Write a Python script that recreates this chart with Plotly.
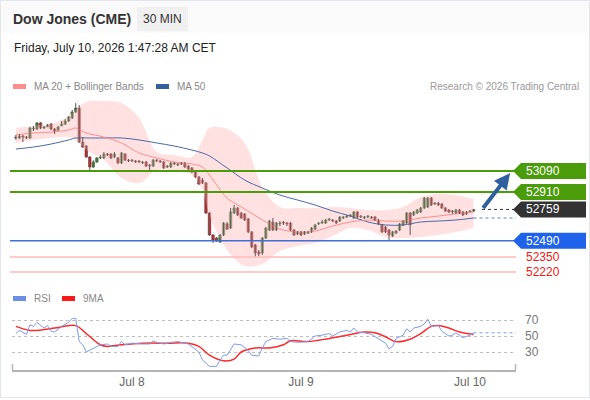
import pandas as pd
import plotly.graph_objects as go

W, H = 590, 400
FONT = "Liberation Sans, Arial, sans-serif"

# 30 min candles, CET, first one Jul 7 07:30
t_start = "2026-07-07 07:30"

opens = [53382, 53374, 53391, 53382, 53374, 53451, 53451, 53503, 53460, 53469,
         53494, 53451, 53443, 53477, 53494, 53520, 53546, 53598, 53632, 53339,
         53305, 53210, 53124, 53167, 53202, 53202, 53236, 53236, 53210, 53202,
         53159, 53236, 53184, 53176, 53176, 53176, 53159, 53167, 53141, 53133,
         53184, 53176, 53167, 53124, 53124, 53159, 53141, 53159, 53159, 53133,
         53116, 53081, 53038, 53012, 52986, 52728, 52539, 52513, 52479, 52539,
         52634, 52599, 52728, 52771, 52728, 52720, 52677, 52565, 52453, 52393,
         52384, 52513, 52582, 52651, 52582, 52634, 52651, 52642, 52642, 52582,
         52547, 52565, 52547, 52556, 52565, 52590, 52634, 52642, 52642, 52668,
         52668, 52659, 52659, 52685, 52694, 52702, 52685, 52737, 52702, 52685,
         52694, 52694, 52694, 52668, 52625, 52608, 52582, 52530, 52556, 52582,
         52625, 52642, 52728, 52711, 52728, 52737, 52771, 52780, 52857, 52806,
         52814, 52806, 52771, 52754, 52745, 52728, 52754, 52737, 52720, 52737, 52745]
closes = [53374, 53391, 53382, 53374, 53460, 53460, 53503, 53460, 53469, 53486,
          53451, 53434, 53469, 53494, 53520, 53555, 53598, 53632, 53339, 53296,
          53210, 53124, 53167, 53202, 53210, 53236, 53227, 53202, 53236, 53159,
          53245, 53184, 53176, 53184, 53167, 53167, 53167, 53133, 53133, 53184,
          53176, 53167, 53116, 53133, 53159, 53150, 53150, 53150, 53124, 53107,
          53081, 53038, 52978, 52986, 52728, 52539, 52496, 52487, 52539, 52642,
          52590, 52737, 52771, 52711, 52685, 52668, 52565, 52436, 52384, 52376,
          52513, 52599, 52659, 52582, 52642, 52642, 52642, 52634, 52582, 52539,
          52565, 52539, 52565, 52565, 52599, 52625, 52642, 52651, 52668, 52677,
          52659, 52642, 52694, 52694, 52702, 52711, 52737, 52694, 52694, 52694,
          52702, 52685, 52668, 52634, 52565, 52565, 52539, 52565, 52573, 52634,
          52659, 52728, 52625, 52737, 52754, 52771, 52857, 52857, 52797, 52814,
          52797, 52771, 52745, 52737, 52737, 52754, 52728, 52711, 52737, 52745, 52759]
highs = [53400, 53408, 53400, 53391, 53469, 53477, 53512, 53512, 53477, 53494,
         53503, 53460, 53477, 53520, 53537, 53563, 53615, 53675, 53658, 53382,
         53313, 53219, 53184, 53210, 53227, 53253, 53245, 53245, 53253, 53210,
         53253, 53245, 53193, 53193, 53184, 53184, 53176, 53176, 53150, 53193,
         53193, 53184, 53176, 53141, 53167, 53167, 53159, 53167, 53167, 53141,
         53124, 53090, 53047, 53029, 52995, 52737, 52547, 52522, 52547, 52651,
         52651, 52771, 52797, 52780, 52737, 52728, 52685, 52573, 52462, 52410,
         52522, 52608, 52668, 52685, 52651, 52659, 52659, 52651, 52651, 52590,
         52573, 52573, 52573, 52573, 52608, 52634, 52651, 52668, 52677, 52685,
         52677, 52668, 52702, 52702, 52711, 52720, 52745, 52745, 52711, 52702,
         52711, 52702, 52702, 52677, 52634, 52616, 52590, 52573, 52582, 52642,
         52668, 52737, 52737, 52745, 52763, 52780, 52866, 52866, 52866, 52823,
         52823, 52814, 52780, 52763, 52754, 52763, 52763, 52745, 52745, 52754, 52763]
lows = [53357, 53365, 53339, 53365, 53365, 53434, 53443, 53451, 53451, 53469,
        53443, 53408, 53434, 53477, 53486, 53512, 53537, 53589, 53331, 53288,
        53202, 53081, 53116, 53159, 53193, 53193, 53219, 53193, 53202, 53150,
        53150, 53176, 53167, 53167, 53159, 53159, 53150, 53124, 53090, 53124,
        53167, 53159, 53107, 53116, 53116, 53141, 53133, 53141, 53116, 53098,
        53072, 53029, 52969, 52978, 52720, 52530, 52470, 52479, 52470, 52530,
        52582, 52590, 52720, 52702, 52677, 52659, 52556, 52427, 52350, 52358,
        52367, 52504, 52573, 52573, 52573, 52616, 52625, 52616, 52573, 52530,
        52539, 52530, 52539, 52547, 52556, 52582, 52625, 52634, 52634, 52659,
        52651, 52634, 52651, 52677, 52685, 52694, 52677, 52685, 52685, 52677,
        52685, 52677, 52659, 52625, 52556, 52556, 52496, 52522, 52547, 52573,
        52616, 52634, 52539, 52702, 52720, 52728, 52763, 52771, 52788, 52797,
        52788, 52763, 52737, 52728, 52720, 52720, 52720, 52702, 52711, 52737, 52737]

# indicators, read at these candle positions
ind_idx = [0, 5, 10, 15, 17, 20, 25, 30, 35, 40, 45, 50, 53, 55, 60, 65, 70, 75,
           80, 85, 90, 95, 100, 105, 110, 115, 120, 125, 130]
ma20 = [53400, 53417, 53425, 53443, 53460, 53417, 53382, 53331, 53245, 53202,
        53167, 53150, 53124, 53055, 52857, 52763, 52668, 52590, 52565, 52573,
        52616, 52651, 52668, 52659, 52659, 52685, 52702, 52720, 52737]
ma50 = [53279, 53296, 53322, 53357, 53374, 53374, 53374, 53374, 53357, 53331,
        53305, 53270, 53245, 53219, 53116, 53012, 52943, 52883, 52840, 52797,
        52745, 52702, 52651, 52625, 52625, 52651, 52659, 52668, 52685]
bb_upper = [53460, 53477, 53494, 53563, 53615, 53684, 53693, 53675, 53546, 53253,
            53227, 53210, 53357, 53460, 53451, 53331, 52952, 52780, 52771, 52771,
            52780, 52771, 52754, 52754, 52780, 52866, 52892, 52883, 52849]
bb_lower = [53331, 53357, 53374, 53382, 53357, 53270, 53184, 53029, 52986, 53098,
            53090, 53055, 52926, 52711, 52410, 52272, 52289, 52401, 52444, 52470,
            52530, 52599, 52582, 52522, 52513, 52522, 52539, 52565, 52599]

rsi_idx = [0, 1, 3, 4, 5, 6, 8, 9, 10, 11, 13, 15, 16, 17, 18, 19, 20, 22, 23, 24,
           26, 27, 29, 30, 31, 33, 36, 38, 39, 40, 42, 44, 46, 49, 52, 53, 55, 57,
           58, 59, 60, 62, 64, 66, 67, 69, 70, 71, 73, 75, 77, 78, 80, 83, 85, 87,
           89, 90, 92, 94, 95, 96, 97, 99, 101, 103, 105, 106, 107, 108, 110, 111,
           112, 113, 115, 116, 117, 118, 120, 121, 123, 124, 125, 127, 129, 130]
rsi = [53, 57, 52, 64, 62, 67, 60, 63, 56, 55, 62, 67, 72, 72, 43, 39, 30, 34, 37, 39,
       40, 37, 37, 43, 39, 41, 40, 40, 44, 42, 40, 42, 43, 40, 30, 20, 12, 12,
       20, 26, 26, 40, 39, 32, 26, 25, 35, 43, 47, 46, 47, 43, 42, 43, 50, 51,
       53, 50, 55, 57, 55, 60, 55, 54, 52, 47, 41, 34, 37, 47, 51, 59,
       55, 60, 62, 65, 71, 62, 63, 56, 50, 51, 54, 48, 51, 54]
ma9_idx = [0, 4, 8, 11, 17, 20, 24, 26, 30, 36, 43, 49, 52, 55, 59, 62, 64, 68, 72,
           76, 78, 83, 89, 94, 99, 102, 105, 108, 112, 115, 118, 120, 123, 126, 130]
rsi_ma9 = [62, 57, 58, 60, 63, 53, 39, 37, 39, 41, 41, 41, 37, 26, 19, 21, 30, 35, 35,
           39, 44, 43, 47, 51, 55, 54, 49, 43, 46, 53, 62, 63, 60, 55, 52]

levels_res = [53090, 52910]
level_piv = 52490
levels_sup = [52350, 52220]
last_price = closes[-1]

times = pd.date_range(t_start, periods=len(closes), freq="30min")
t_ind = times[ind_idx]
t_rsi = times[rsi_idx]
t_ma9 = times[ma9_idx]
x_range = ["2026-07-07 06:57", "2026-07-10 06:32"]
y_range = [52151.5, 53744]
t_tail = times[-1] + pd.Timedelta(hours=1.2)
t_head = times[-1] + pd.Timedelta(hours=5.2)


def px(x):
    return x / W


def py(y):
    return 1 - y / H


yscale = (y_range[1] - y_range[0]) / 185.0  # price per pixel

fig = go.Figure()

fig.add_trace(go.Scatter(x=t_ind, y=bb_upper, mode="lines", line=dict(width=0, shape="spline"),
                         hoverinfo="skip", xaxis="x", yaxis="y"))
fig.add_trace(go.Scatter(x=t_ind, y=bb_lower, mode="lines", line=dict(width=0, shape="spline"),
                         fill="tonexty", fillcolor="rgba(255,196,196,0.5)", hoverinfo="skip",
                         xaxis="x", yaxis="y"))
fig.add_trace(go.Scatter(x=t_ind, y=ma50, mode="lines",
                         line=dict(color="#4a6aa8", width=1, shape="spline"), xaxis="x", yaxis="y"))
fig.add_trace(go.Scatter(x=t_ind, y=ma20, mode="lines",
                         line=dict(color="#ff8c8c", width=1, shape="spline"), xaxis="x", yaxis="y"))

# candles: wicks as one broken line, bodies as floating bars
wx, wy = [], []
for t, h, l in zip(times, highs, lows):
    wx += [t, t, None]
    wy += [h, l, None]
fig.add_trace(go.Scatter(x=wx, y=wy, mode="lines", line=dict(color="#5a5a5a", width=1),
                         hoverinfo="skip", xaxis="x", yaxis="y"))
body_base = [min(o, c) for o, c in zip(opens, closes)]
body_len = [max(abs(c - o), 6) for o, c in zip(opens, closes)]
body_col = ["#3f8f2f" if c > o else ("#e0161e" if c < o else "#555555") for o, c in zip(opens, closes)]
edge_col = ["#2d5e25" if c > o else ("#8e1a1a" if c < o else "#555555") for o, c in zip(opens, closes)]
fig.add_trace(go.Bar(x=times, y=body_len, base=body_base, width=1000 * 60 * 21,
                     marker=dict(color=body_col, line=dict(color=edge_col, width=0.6)),
                     hoverinfo="skip", xaxis="x", yaxis="y"))

# dotted projections
fig.add_trace(go.Scatter(x=[t_tail, x_range[1]], y=[last_price, last_price], mode="lines",
                         line=dict(color="#333333", width=1, dash="dot"), xaxis="x", yaxis="y"))
fig.add_trace(go.Scatter(x=[t_ind[-1], x_range[1]], y=[ma50[-1], ma50[-1]], mode="lines",
                         line=dict(color="#5a7fc8", width=1, dash="dot"), xaxis="x", yaxis="y"))

# RSI panel
fig.add_trace(go.Scatter(x=t_ma9, y=rsi_ma9, mode="lines",
                         line=dict(color="#ff2a2a", width=1.5, shape="spline"), xaxis="x2", yaxis="y2"))
fig.add_trace(go.Scatter(x=t_rsi, y=rsi, mode="lines",
                         line=dict(color="#7d9cf0", width=1), xaxis="x2", yaxis="y2"))
fig.add_trace(go.Scatter(x=[t_rsi[-1], x_range[1]], y=[rsi[-1], rsi[-1]], mode="lines",
                         line=dict(color="#7d9cf0", width=1, dash="dot"), xaxis="x2", yaxis="y2"))

shapes = []
annots = []

# card frame and header
shapes.append(dict(type="rect", xref="paper", yref="paper", x0=px(1), x1=px(589), y0=py(33), y1=py(1),
                   fillcolor="#fafafa", line=dict(width=0), layer="below"))
shapes.append(dict(type="rect", xref="paper", yref="paper", x0=px(0.5), x1=px(589.5), y0=py(397.5), y1=py(0.5),
                   line=dict(color="#e2e5ea", width=1)))
shapes.append(dict(type="rect", xref="paper", yref="paper", x0=px(137), x1=px(188), y0=py(31), y1=py(7),
                   fillcolor="#f0f0f0", line=dict(width=0)))

annots.append(dict(text="<b>Dow Jones (CME)</b>", x=px(11), y=py(19), xanchor="left", yanchor="middle",
                   font=dict(size=14, color="#333333")))
annots.append(dict(text="30 MIN", x=px(162.5), y=py(19), xanchor="center", yanchor="middle",
                   font=dict(size=12, color="#333333")))
annots.append(dict(text="Friday, July 10, 2026 1:47:28 AM CET", x=px(12), y=py(48), xanchor="left",
                   yanchor="middle", font=dict(size=12, color="#222222")))

# legends
for x0, col, label in [(13, "#ff8c8c", "MA 20 + Bollinger Bands"), (156, "#34609e", "MA 50")]:
    shapes.append(dict(type="rect", xref="paper", yref="paper", x0=px(x0), x1=px(x0 + 13),
                       y0=py(89), y1=py(84), fillcolor=col, line=dict(width=0)))
    annots.append(dict(text=label, x=px(x0 + 19), y=py(86.5), xanchor="left", yanchor="middle",
                       font=dict(size=10, color="#888888")))
for x0, col, label in [(13, "#6b8fe6", "RSI"), (62, "#ff1a1a", "9MA")]:
    shapes.append(dict(type="rect", xref="paper", yref="paper", x0=px(x0), x1=px(x0 + 13),
                       y0=py(301), y1=py(296), fillcolor=col, line=dict(width=0)))
    annots.append(dict(text=label, x=px(x0 + 19), y=py(298.5), xanchor="left", yanchor="middle",
                       font=dict(size=10, color="#888888")))
annots.append(dict(text="Research © 2026 Trading Central", x=px(581), y=py(86.5), xanchor="right",
                   yanchor="middle", font=dict(size=10, color="#9a9a9a")))


def level_line(price, color, width):
    shapes.append(dict(type="line", xref="paper", yref="y", x0=px(10), x1=px(516), y0=price, y1=price,
                       line=dict(color=color, width=width)))


def tag(price, bg, fg="white"):
    h = 8 * yscale
    if bg:
        path = (f"M {px(513)},{price} L {px(521)},{price + h} L {px(586)},{price + h} "
                f"L {px(586)},{price - h} L {px(521)},{price - h} Z")
        shapes.append(dict(type="path", xref="paper", yref="y", path=path, fillcolor=bg, line=dict(width=0)))
    annots.append(dict(text=str(price), x=px(524), y=price, xref="paper", yref="y", xanchor="left",
                       yanchor="middle", font=dict(size=12, color=fg)))


for p in levels_res:
    level_line(p, "#4b9c0a", 2)
    tag(p, "#4b9c0a")
level_line(level_piv, "#3f6fd8", 1.5)
tag(level_piv, "#1f63ea")
for p in levels_sup:
    level_line(p, "#ffb8b8", 1.5)
    tag(p, None, "#f01818")
tag(last_price, "#333333")

# axis end ticks
for xe in (12.5, 515.5):
    shapes.append(dict(type="line", xref="paper", yref="paper", x0=px(xe), x1=px(xe), y0=py(370), y1=py(364),
                       line=dict(color="#b5b5b5", width=1.5)))

# forecast arrow
annots.append(dict(text="", x=t_head, y=53072, ax=t_tail, ay=last_price, xref="x", yref="y",
                   axref="x", ayref="y", showarrow=True, arrowhead=2, arrowsize=0.8, arrowwidth=4,
                   arrowcolor="#2f5f9e", standoff=0, startstandoff=0))

for a in annots:
    a.setdefault("xref", "paper")
    a.setdefault("yref", "paper")
    a.setdefault("showarrow", False)

fig.update_layout(
    width=W, height=H, margin=dict(l=0, r=0, t=0, b=0),
    paper_bgcolor="white", plot_bgcolor="rgba(0,0,0,0)",
    font=dict(family=FONT), showlegend=False, hovermode=False,
    shapes=shapes, annotations=annots,
    xaxis=dict(domain=[px(12), px(516)], range=x_range, type="date", visible=False, anchor="y"),
    yaxis=dict(domain=[py(280), py(95)], range=y_range, visible=False, anchor="x"),
    xaxis2=dict(domain=[px(12), px(516)], range=x_range, type="date", matches="x", anchor="y2",
                tickvals=["2026-07-08", "2026-07-09", "2026-07-10"], ticktext=["Jul 8", "Jul 9", "Jul 10"],
                showline=True, linecolor="#b5b5b5", linewidth=2, showgrid=False, ticks="",
                tickfont=dict(size=12, color="#666666")),
    yaxis2=dict(domain=[py(370), py(305)], range=[7.5, 88.75], side="right", anchor="x2",
                tickvals=[30, 50, 70], showgrid=True, gridcolor="#bdbdbd", griddash="dot", gridwidth=1,
                zeroline=False, ticks="", ticklabelstandoff=8, tickfont=dict(size=12, color="#777777")),
)

# the page body has a default 8px margin; drop it so the figure sits at the top-left corner
fig.write_html("out.html", config={"displayModeBar": False},
               post_script="document.body.style.margin='0px';")
